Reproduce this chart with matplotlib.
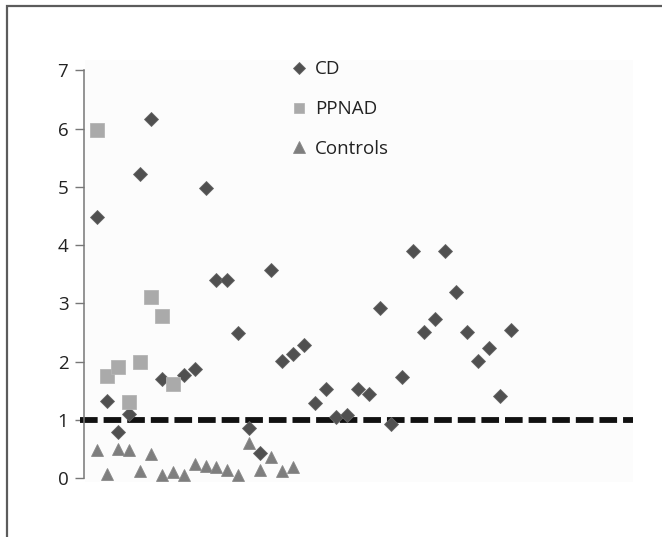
import matplotlib
matplotlib.use("Agg")
import matplotlib.pyplot as plt
from matplotlib.lines import Line2D
from matplotlib.patches import Rectangle
import numpy as np

plt.rcParams['font.family'] = ['Open Sans', 'DejaVu Sans']
plt.rcParams['lines.scale_dashes'] = False

# ---- data ----
cd_x = [1, 2, 3, 4, 5, 6, 7, 9, 10, 11, 12, 13, 14, 15, 16, 17, 18, 19, 20,
        21, 22, 23, 24, 25, 26, 27, 28, 29, 30, 31, 32, 33, 34, 35, 36, 37, 38, 39]
cd_y = [4.49, 1.33, 0.79, 1.11, 5.22, 6.16, 1.70, 1.77, 1.87, 4.98, 3.41, 3.41,
        2.49, 0.87, 0.43, 3.58, 2.01, 2.13, 2.29, 1.29, 1.53, 1.06, 1.09, 1.53,
        1.45, 2.92, 0.93, 1.74, 3.90, 2.51, 2.73, 3.90, 3.19, 2.51, 2.01, 2.24,
        1.42, 2.54]
pp_x = [1, 2, 3, 4, 5, 6, 7, 8]
pp_y = [5.97, 1.76, 1.91, 1.31, 1.99, 3.11, 2.78, 1.62]
ct_x = list(range(1, 20))
ct_y = [0.49, 0.08, 0.50, 0.49, 0.13, 0.42, 0.06, 0.10, 0.06, 0.245, 0.21, 0.19,
        0.15, 0.05, 0.61, 0.14, 0.37, 0.13, 0.19]
threshold = 1.0
y_ticks = [0, 1, 2, 3, 4, 5, 6, 7]
labels = ['CD', 'PPNAD', 'Controls']

CD_C = '#505050'
PP_C = '#aaaaaa'
CT_C = '#7e7e7e'

W, H = 662, 537
fig = plt.figure(figsize=(W / 100, H / 100), dpi=100)

# figure frame (left & top visible)
frame = Rectangle((7 / W, -0.2), 1.2, 1.2 - 6 / H, transform=fig.transFigure,
                  fill=False, edgecolor='#5c5c5c', linewidth=1.6, zorder=-2)
fig.patches.append(frame)
# faint plot-area background
bg = Rectangle((85 / W, 1 - 482 / H), (633 - 85) / W, (482 - 60) / H,
               transform=fig.transFigure, facecolor='#fcfcfc',
               edgecolor='none', zorder=-1)
fig.patches.append(bg)

ax = fig.add_axes([84.3 / W, 1 - 478.3 / H, (633 - 84.3) / W, (478.3 - 70.3) / H])
ax.set_zorder(2)
ax.patch.set_alpha(0)
ax.set_xlim(-0.12, 50.2)
ax.set_ylim(0, 7)

ax.plot([-0.5, 50.2], [threshold, threshold], color='#111111', linewidth=4.2,
        linestyle=(0, (12.7, 4.3)), solid_capstyle='butt', dash_capstyle='butt',
        clip_on=False, zorder=2)

ax.plot(cd_x, cd_y, linestyle='none', marker='D', markersize=7.6, color=CD_C,
        markeredgecolor='#666666', markeredgewidth=0.6, clip_on=False, zorder=3)
ax.plot(pp_x, pp_y, linestyle='none', marker='s', markersize=10, color=PP_C,
        markeredgecolor='#b5b5b5', markeredgewidth=0.6, clip_on=False, zorder=4)
ax.plot(ct_x, ct_y, linestyle='none', marker='^', markersize=9.2, color=CT_C,
        markeredgecolor='#8a8a8a', markeredgewidth=0.6, clip_on=False, zorder=5)

for s in ['top', 'right', 'bottom']:
    ax.spines[s].set_visible(False)
ax.spines['left'].set_color('#777777')
ax.spines['left'].set_linewidth(1.1)
ax.set_xticks([])
ax.set_yticks(y_ticks)
ax.tick_params(axis='y', direction='out', length=6.5, width=1.0, color='#777777',
               labelsize=13.5, labelcolor='#222222', pad=5)

handles = [
    Line2D([], [], linestyle='none', marker='D', markersize=6.5, color=CD_C,
           markeredgecolor='#666666', markeredgewidth=0.6),
    Line2D([], [], linestyle='none', marker='s', markersize=7.5, color=PP_C,
           markeredgecolor='#b5b5b5', markeredgewidth=0.6),
    Line2D([], [], linestyle='none', marker='^', markersize=8.5, color=CT_C,
           markeredgecolor='#8a8a8a', markeredgewidth=0.6),
]
leg = fig.legend(handles, labels, loc='upper left',
                 bbox_to_anchor=(289.6 / W, 1 - 60.5 / H), frameon=False,
                 fontsize=13.5, borderpad=0, borderaxespad=0, handlelength=1.0,
                 handletextpad=0.35, labelspacing=1.15)
leg.set_zorder(3)
for t in leg.get_texts():
    t.set_color('#222222')

fig.savefig('out.png', dpi=100)
